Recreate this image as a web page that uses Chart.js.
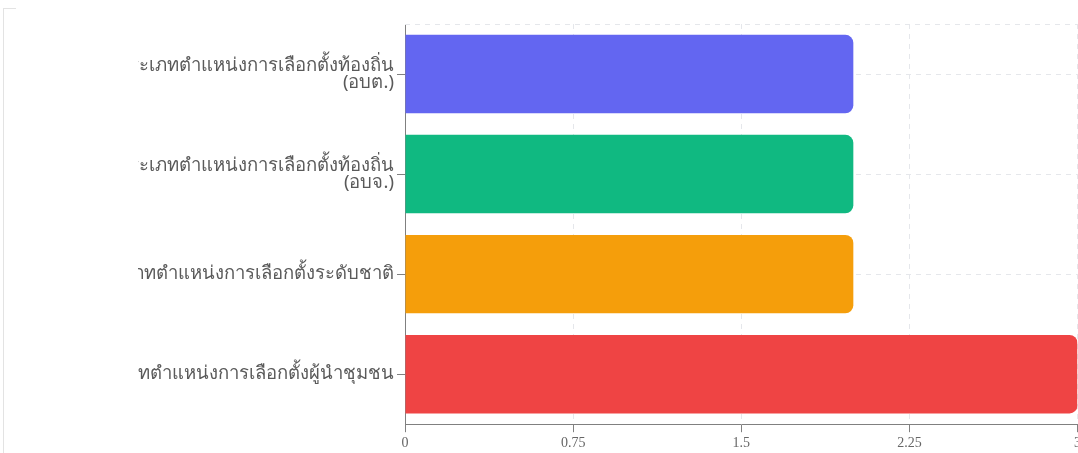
<!DOCTYPE html>
<html>
<head>
<meta charset="utf-8">
<script src="https://cdn.jsdelivr.net/npm/chart.js@4.4.1/dist/chart.umd.min.js"></script>
<style>
body{margin:0;background:#fff;overflow:hidden;width:1078px;height:453px;position:relative}
.frame{position:absolute;left:3px;top:8px;width:12px;height:460px;border-left:1px solid #e3e3e3;border-top:1px solid #e3e3e3}
.box{position:absolute;left:138px;top:0;width:946px;height:455px}
</style>
</head>
<body>
<div class="frame"></div>
<div class="box"><canvas id="election"></canvas></div>
<script>
const categories = [
    ['ประเภทตำแหน่งการเลือกตั้งท้องถิ่น', '(อบต.)'],
    ['ประเภทตำแหน่งการเลือกตั้งท้องถิ่น', '(อบจ.)'],
    'ประเภทตำแหน่งการเลือกตั้งระดับชาติ',
    'ประเภทตำแหน่งการเลือกตั้งผู้นำชุมชน'
];
const counts = [2, 2, 2, 3];
const barColors = ['#6366f1', '#10b981', '#f59e0b', '#ef4444'];
const xMin = 0, xMax = 3, xStep = 0.75;

// dashed line along the top of the plot area
const topLine = {
    id: 'topLine',
    beforeDatasetsDraw(chart) {
        const {ctx, chartArea} = chart;
        ctx.save();
        ctx.strokeStyle = '#e5e7eb';
        ctx.setLineDash([5, 5]);
        ctx.lineWidth = 1;
        ctx.beginPath();
        ctx.moveTo(chartArea.left, chartArea.top + 0.5);
        ctx.lineTo(chartArea.right, chartArea.top + 0.5);
        ctx.stroke();
        ctx.restore();
    }
};

const electionChart = document.getElementById('election').getContext('2d');
const election = new Chart(electionChart, {
    type: 'bar',
    data: {
        labels: categories,
        datasets: [{
            data: counts,
            backgroundColor: barColors,
            borderRadius: 8,
            categoryPercentage: 0.8,
            barPercentage: 0.98
        }]
    },
    options: {
        indexAxis: 'y',
        responsive: true,
        maintainAspectRatio: false,
        animation: false,
        layout: {padding: {top: 24}},
        plugins: {
            legend: {display: false},
            tooltip: {enabled: false}
        },
        scales: {
            x: {
                min: xMin,
                max: xMax,
                ticks: {
                    stepSize: xStep,
                    color: '#666',
                    font: {family: '"Liberation Serif", serif', size: 14},
                    callback: (v) => String(v)
                },
                grid: {color: '#e5e7eb', tickColor: '#808080'},
                border: {color: '#808080', dash: [5, 5]}
            },
            y: {
                afterFit(scale) { scale.width = 267; },
                ticks: {
                    color: '#5a5a5a',
                    font: {family: 'Tahoma, "Noto Sans", sans-serif', size: 18.5, lineHeight: 0.93}
                },
                grid: {offset: false, color: '#e5e7eb', tickColor: '#808080'},
                border: {color: '#808080', dash: [5, 5]}
            }
        }
    },
    plugins: [topLine]
});
</script>
</body>
</html>
